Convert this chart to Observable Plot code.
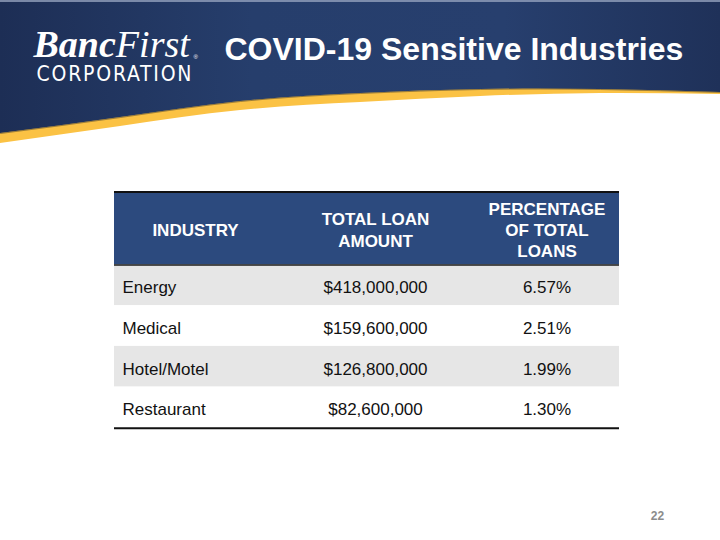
<!DOCTYPE html>
<html>
<head>
<meta charset="utf-8">
<script src="https://cdn.jsdelivr.net/npm/d3@7"></script>
<script src="https://cdn.jsdelivr.net/npm/@observablehq/plot@0.6"></script>
<style>
  html, body { margin: 0; padding: 0; background: #ffffff; }
  #chart svg { display: block; }
</style>
</head>
<body>
<div id="chart"></div>
<script>
// ---------- data ----------
const title = "COVID-19 Sensitive Industries";
const logoWord1 = "Banc";
const logoWord2 = "First";
const logoSub = "CORPORATION";
const headers = ["INDUSTRY", "TOTAL LOAN\nAMOUNT", "PERCENTAGE\nOF TOTAL\nLOANS"];
const industries = ["Energy", "Medical", "Hotel/Motel", "Restaurant"];
const loanAmounts = [418000000, 159600000, 126800000, 82600000];
const loanShares = [6.57, 2.51, 1.99, 1.30];
const pageNumber = "22";

// ---------- layout (decoration + table geometry) ----------
const W = 720, H = 540;
const bannerX      = [0, 120, 240, 360, 480, 600, 720];
const bannerNavy   = [133, 117, 101, 93, 89, 89, 92];
const bannerYellow = [143, 126, 110, 102, 96, 93, 94];
const banner = bannerX.map((x, i) => ({x, navy: bannerNavy[i], yellow: bannerYellow[i]}));

const T = {top: 191, headerH: 73.5, rowH: 40.7};
const colEdges = [114, 276, 474, 619];
const colMid = i => (colEdges[i] + colEdges[i + 1]) / 2;
const rowTop = i => T.top + T.headerH + i * T.rowH;
const tableBottom = rowTop(industries.length);

const rows = industries.map((name, i) => ({
  name,
  amount: loanAmounts[i],
  share: loanShares[i],
  i
}));

const fmtAmount = d3.format("$,");
const fmtShare = v => d3.format(".2f")(v) + "%";
const FONT = "'Liberation Sans', Arial, sans-serif";
const SERIF = "'Liberation Serif', 'DejaVu Serif', serif";

const gradientDefs = () => {
  const ns = "http://www.w3.org/2000/svg";
  const defs = document.createElementNS(ns, "defs");
  defs.innerHTML = `
    <linearGradient id="navyGrad" x1="0" x2="1" y1="0" y2="0">
      <stop offset="0" stop-color="#1d2e55"/>
      <stop offset="0.35" stop-color="#263e6c"/>
      <stop offset="0.7" stop-color="#273f6e"/>
      <stop offset="1" stop-color="#1f3159"/>
    </linearGradient>`;
  return defs;
};

const chart = Plot.plot({
  width: W,
  height: H,
  margin: 0,
  x: {domain: [0, W], range: [0, W], axis: null},
  y: {domain: [0, H], range: [0, H], axis: null},
  color: {type: "identity"},
  style: {background: "#ffffff", fontFamily: FONT},
  marks: [
    gradientDefs,
    // banner
    Plot.areaY(banner, {x: "x", y1: 0, y2: "yellow", curve: "natural", fill: "#FBC244"}),
    Plot.areaY(banner, {x: "x", y1: 0, y2: "navy", curve: "natural", fill: "url(#navyGrad)"}),
    Plot.lineY(banner, {x: "x", y: "navy", curve: "natural", stroke: "#2a2a2a", strokeOpacity: 0.45, strokeWidth: 1}),
    Plot.ruleY([0.5], {stroke: "#9aa7c2", strokeWidth: 1.5}),
    // logo
    Plot.text([logoWord1 + logoWord2], {x: 33, y: 56, text: d => d, textAnchor: "start", lineAnchor: "bottom",
      fill: "white", fontFamily: SERIF, fontStyle: "italic", fontSize: 38}),
    Plot.text(["®"], {x: 193, y: 58, text: d => d, textAnchor: "start", lineAnchor: "bottom",
      fill: "white", fontSize: 6, fontFamily: FONT}),
    Plot.text([logoSub], {x: 36, y: 80, text: d => d, textAnchor: "start", lineAnchor: "bottom",
      fill: "white", fontFamily: "'Liberation Sans Narrow', 'DejaVu Sans Condensed', sans-serif",
      fontSize: 21}),
    // title
    Plot.text([title], {x: 224, y: 59, text: d => d, textAnchor: "start", lineAnchor: "bottom",
      fill: "white", fontWeight: "bold", fontSize: 32, fontFamily: FONT}),
    // table: header
    Plot.rect([0], {x1: colEdges[0], x2: colEdges[3], y1: T.top, y2: T.top + T.headerH, fill: "#2C4A7E"}),
    Plot.text(headers, {x: (d, i) => colMid(i), y: T.top + T.headerH / 2 + 1, text: d => d,
      fill: "white", fontWeight: "bold", fontSize: 17, lineHeight: 1.24, fontFamily: FONT}),
    // table: rows
    Plot.rect(rows, {x1: colEdges[0], x2: colEdges[3], y1: d => rowTop(d.i), y2: d => rowTop(d.i) + T.rowH,
      fill: d => d.i % 2 === 0 ? "#E6E6E6" : "#FFFFFF"}),
    Plot.text(rows, {x: colEdges[0] + 8, y: d => rowTop(d.i) + T.rowH / 2 + 2.5, text: "name",
      textAnchor: "start", fill: "#111", fontSize: 17, fontFamily: FONT}),
    Plot.text(rows, {x: colMid(1), y: d => rowTop(d.i) + T.rowH / 2 + 2.5, text: d => fmtAmount(d.amount),
      fill: "#111", fontSize: 17, fontFamily: FONT}),
    Plot.text(rows, {x: colMid(2), y: d => rowTop(d.i) + T.rowH / 2 + 2.5, text: d => fmtShare(d.share),
      fill: "#111", fontSize: 17, fontFamily: FONT}),
    // table borders
    Plot.ruleY([T.top + 0.5], {x1: colEdges[0], x2: colEdges[3], stroke: "#111", strokeWidth: 2}),
    Plot.ruleY([T.top + T.headerH], {x1: colEdges[0], x2: colEdges[3], stroke: "#1a1a1a", strokeWidth: 1.5}),
    Plot.ruleY([tableBottom + 0.5], {x1: colEdges[0], x2: colEdges[3], stroke: "#111", strokeWidth: 2}),
    // page number
    Plot.text([pageNumber], {x: 657, y: 516, text: d => d, fill: "#8C8C8C", fontWeight: "bold", fontSize: 12, fontFamily: FONT})
  ]
});

// logo: bold "Banc" + regular "First" within one text element
const svgSel = d3.select(chart);
const logoText = svgSel.selectAll("text")
  .filter(function() { return this.textContent === logoWord1 + logoWord2; });
logoText.text(null);
logoText.append("tspan").attr("font-weight", "bold").text(logoWord1);
logoText.append("tspan").attr("font-weight", "normal").text(logoWord2);

svgSel.selectAll("text")
  .filter(function() { return this.textContent === logoSub; })
  .attr("textLength", 155).attr("lengthAdjust", "spacing");

document.getElementById("chart").appendChild(chart);
</script>
</body>
</html>
